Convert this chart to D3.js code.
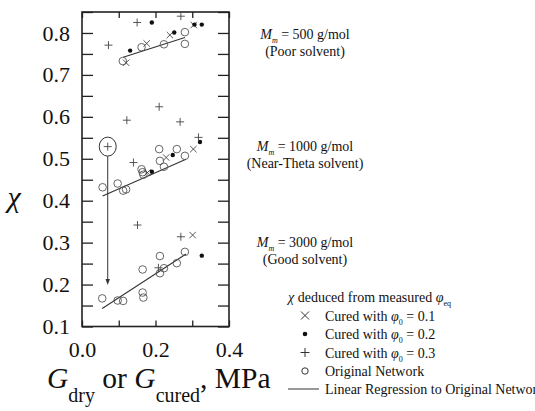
<!DOCTYPE html>
<html>
<head>
<meta charset="utf-8">
<script src="https://cdn.jsdelivr.net/npm/d3@7"></script>
<style>
  body { margin: 0; background: #fff; }
</style>
</head>
<body>
<div id="chart"></div>
<script>
// chi vs modulus, three molecular weights
const curedPhi01 = [ // x markers
    [0.120, 0.729], [0.176, 0.775], [0.239, 0.795], [0.304, 0.819],
    [0.178, 0.467], [0.229, 0.503], [0.303, 0.523],
    [0.301, 0.318]
];
const curedPhi02 = [ // filled dots
    [0.131, 0.758], [0.190, 0.825], [0.251, 0.801], [0.306, 0.820], [0.326, 0.820],
    [0.190, 0.469], [0.247, 0.509], [0.321, 0.540],
    [0.326, 0.269]
];
const curedPhi03 = [ // plus markers
    [0.072, 0.771], [0.150, 0.825], [0.269, 0.840],
    [0.210, 0.624], [0.122, 0.592], [0.267, 0.588], [0.317, 0.551], [0.070, 0.529], [0.140, 0.491],
    [0.151, 0.342], [0.269, 0.314], [0.208, 0.240]
];
const originalNetwork = [ // open circles
    [0.111, 0.733], [0.162, 0.766], [0.223, 0.773], [0.280, 0.802], [0.280, 0.774],
    [0.056, 0.432], [0.097, 0.441], [0.112, 0.424], [0.120, 0.427], [0.162, 0.475],
    [0.165, 0.468], [0.167, 0.462], [0.212, 0.495], [0.223, 0.481], [0.210, 0.523],
    [0.258, 0.523], [0.280, 0.507],
    [0.055, 0.167], [0.097, 0.162], [0.112, 0.161], [0.165, 0.181], [0.167, 0.169],
    [0.165, 0.236], [0.212, 0.268], [0.212, 0.227], [0.223, 0.239], [0.258, 0.251],
    [0.280, 0.278]
];
// linear regression segments [g0, chi0, g1, chi1]
const regressions = [
    [0.112, 0.742, 0.280, 0.789],
    [0.056, 0.411, 0.283, 0.499],
    [0.055, 0.143, 0.283, 0.273]
];
// highlighted point and where the arrow goes
const highlight = [0.070, 0.529];
const arrowEnd = 0.199;

const groupLabels = [
    { mw: "500", solvent: "(Poor solvent)" },
    { mw: "1000", solvent: "(Near-Theta solvent)" },
    { mw: "3000", solvent: "(Good solvent)" }
];
const xTicks = [0, 0.1, 0.2, 0.3, 0.4];
const xLabels = [0, 0.2, 0.4];
const yTicks = d3.range(0.1, 0.851, 0.05);
const yLabels = [0.1, 0.2, 0.3, 0.4, 0.5, 0.6, 0.7, 0.8];

function main() {
    const width = 535, height = 411;
    const left = 82, right = 229, top = 12, bottom = 326.5;

    const svg = d3.select("#chart").append("svg")
        .attr("width", width)
        .attr("height", height);

    const x = d3.scaleLinear().domain([0, 0.4]).range([left, right]);
    const y = d3.scaleLinear().domain([0.1, 0.85]).range([bottom, top]);

    const isLabel = (list) => (d) => list.some(v => Math.abs(v - d) < 1e-6);

    // axes, ticks inward
    svg.append("g")
        .attr("transform", `translate(${left},0)`)
        .call(d3.axisLeft(y).tickValues(yTicks).tickSize(-11).tickPadding(12)
            .tickFormat(d => isLabel(yLabels)(d) ? d3.format(".1f")(d) : ""));
    svg.append("g")
        .attr("transform", `translate(${right},0)`)
        .call(d3.axisRight(y).tickValues(yTicks).tickSize(-11).tickFormat(""));
    svg.append("g")
        .attr("transform", `translate(0,${bottom})`)
        .call(d3.axisBottom(x).tickValues(xTicks).tickSize(-6).tickPadding(15)
            .tickFormat(d => isLabel(xLabels)(d) ? d3.format(".1f")(d) : ""));
    svg.append("g")
        .attr("transform", `translate(0,${top})`)
        .call(d3.axisTop(x).tickValues(xTicks).tickSize(-6).tickFormat(""));

    svg.selectAll(".domain").remove();
    svg.selectAll(".tick line").attr("stroke", "#222").attr("stroke-width", 1.3);
    svg.selectAll(".tick text")
        .attr("font-size", 22)
        .attr("fill", "#111");

    svg.append("rect")
        .attr("x", left).attr("y", top)
        .attr("width", right - left).attr("height", bottom - top)
        .attr("fill", "none").attr("stroke", "#222").attr("stroke-width", 1.6);

    // regression lines
    svg.selectAll(".reg").data(regressions).enter().append("line")
        .attr("x1", d => x(d[0])).attr("y1", d => y(d[1]))
        .attr("x2", d => x(d[2])).attr("y2", d => y(d[3]))
        .attr("stroke", "#333").attr("stroke-width", 1.1);

    // open circles
    svg.selectAll(".orig").data(originalNetwork).enter().append("circle")
        .attr("cx", d => x(d[0])).attr("cy", d => y(d[1])).attr("r", 3.8)
        .attr("fill", "none").attr("stroke", "#555").attr("stroke-width", 0.9);

    // crosses
    const c = 3.2;
    svg.selectAll(".cross").data(curedPhi01).enter().append("path")
        .attr("d", d => `M${x(d[0]) - c},${y(d[1]) - c}L${x(d[0]) + c},${y(d[1]) + c}M${x(d[0]) - c},${y(d[1]) + c}L${x(d[0]) + c},${y(d[1]) - c}`)
        .attr("stroke", "#444").attr("stroke-width", 0.9);

    // dots
    svg.selectAll(".dot").data(curedPhi02).enter().append("circle")
        .attr("cx", d => x(d[0])).attr("cy", d => y(d[1])).attr("r", 2.2)
        .attr("fill", "#111");

    // plus
    const p = 4;
    svg.selectAll(".plus").data(curedPhi03).enter().append("path")
        .attr("d", d => `M${x(d[0]) - p},${y(d[1])}L${x(d[0]) + p},${y(d[1])}M${x(d[0])},${y(d[1]) - p}L${x(d[0])},${y(d[1]) + p}`)
        .attr("stroke", "#444").attr("stroke-width", 0.9);

    // highlighted point + arrow
    svg.append("ellipse")
        .attr("cx", x(highlight[0])).attr("cy", y(highlight[1]))
        .attr("rx", 8.5).attr("ry", 9.5)
        .attr("fill", "none").attr("stroke", "#333").attr("stroke-width", 1);
    const ax = x(highlight[0]);
    const ay0 = y(highlight[1]) + 9.5;
    const ay1 = y(arrowEnd);
    svg.append("line")
        .attr("x1", ax).attr("y1", ay0).attr("x2", ax).attr("y2", ay1 - 5)
        .attr("stroke", "#333").attr("stroke-width", 1);
    svg.append("path")
        .attr("d", `M${ax - 2.2},${ay1 - 6}L${ax + 2.2},${ay1 - 6}L${ax},${ay1}Z`)
        .attr("fill", "#333");

    // group annotations
    const labelY = [39, 151, 247];
    groupLabels.forEach((g, i) => {
        const t = svg.append("text")
            .attr("x", 305).attr("y", labelY[i])
            .attr("text-anchor", "middle").attr("font-size", 14).attr("fill", "#111");
        t.append("tspan").attr("font-style", "italic").text("M");
        t.append("tspan").attr("font-style", "italic").attr("font-size", 8).attr("dy", 4).text("m");
        t.append("tspan").attr("dy", -4).text(` = ${g.mw} g/mol`);
        svg.append("text")
            .attr("x", 305).attr("y", labelY[i] + 17)
            .attr("text-anchor", "middle").attr("font-size", 14).attr("fill", "#111")
            .text(g.solvent);
    });

    // axis titles
    svg.append("text")
        .attr("x", 14).attr("y", 200)
        .attr("text-anchor", "middle").attr("dominant-baseline", "middle")
        .attr("font-size", 30).attr("font-style", "italic").attr("fill", "#111")
        .text("χ");

    const xt = svg.append("text")
        .attr("x", 47).attr("y", 388)
        .attr("font-size", 29.5).attr("fill", "#111");
    xt.append("tspan").attr("font-style", "italic").text("G");
    xt.append("tspan").attr("font-size", 20).attr("dy", 14).text("dry");
    xt.append("tspan").attr("dy", -14).text(" or ");
    xt.append("tspan").attr("font-style", "italic").text("G");
    xt.append("tspan").attr("font-size", 20).attr("dy", 14).text("cured");
    xt.append("tspan").attr("dy", -14).text(", MPa");

    // legend
    const lg = svg.append("g").attr("font-size", 14).attr("fill", "#111");
    const head = lg.append("text").attr("x", 288).attr("y", 302);
    head.append("tspan").attr("font-style", "italic").text("χ");
    head.append("tspan").text(" deduced from measured ");
    head.append("tspan").attr("font-style", "italic").text("φ");
    head.append("tspan").attr("font-size", 8).attr("dy", 4).text("eq");

    const rows = [
        { kind: "cross", phi: "0.1" },
        { kind: "dot", phi: "0.2" },
        { kind: "plus", phi: "0.3" },
        { kind: "circle" },
        { kind: "line" }
    ];
    const rowY = [320.5, 339, 357.5, 376, 394];
    const mx = 305;
    rows.forEach((r, i) => {
        const cy = rowY[i] - 5;
        if (r.kind === "cross") {
            lg.append("path")
                .attr("d", `M${mx - 4},${cy - 4}L${mx + 4},${cy + 4}M${mx - 4},${cy + 4}L${mx + 4},${cy - 4}`)
                .attr("stroke", "#333").attr("stroke-width", 1);
        } else if (r.kind === "dot") {
            lg.append("circle").attr("cx", mx).attr("cy", cy).attr("r", 2.3).attr("fill", "#111");
        } else if (r.kind === "plus") {
            lg.append("path")
                .attr("d", `M${mx - 4.5},${cy}L${mx + 4.5},${cy}M${mx},${cy - 4.5}L${mx},${cy + 4.5}`)
                .attr("stroke", "#333").attr("stroke-width", 1);
        } else if (r.kind === "circle") {
            lg.append("circle").attr("cx", mx).attr("cy", cy).attr("r", 3.2)
                .attr("fill", "none").attr("stroke", "#333").attr("stroke-width", 1);
        } else {
            lg.append("line").attr("x1", 288).attr("x2", 319).attr("y1", cy).attr("y2", cy)
                .attr("stroke", "#333").attr("stroke-width", 1);
        }
        const t = lg.append("text").attr("x", 325).attr("y", rowY[i]);
        if (r.phi) {
            t.append("tspan").text("Cured with ");
            t.append("tspan").attr("font-style", "italic").text("φ");
            t.append("tspan").attr("font-size", 8).attr("dy", 4).text("0");
            t.append("tspan").attr("dy", -4).text(` = ${r.phi}`);
        } else if (r.kind === "circle") {
            t.text("Original Network");
        } else {
            t.text("Linear Regression to Original Network");
        }
    });

    // serif everywhere (inline style wins over the axis defaults)
    svg.selectAll("text").style("font-family", "\"Liberation Serif\", serif");
}

main();
</script>
</body>
</html>
